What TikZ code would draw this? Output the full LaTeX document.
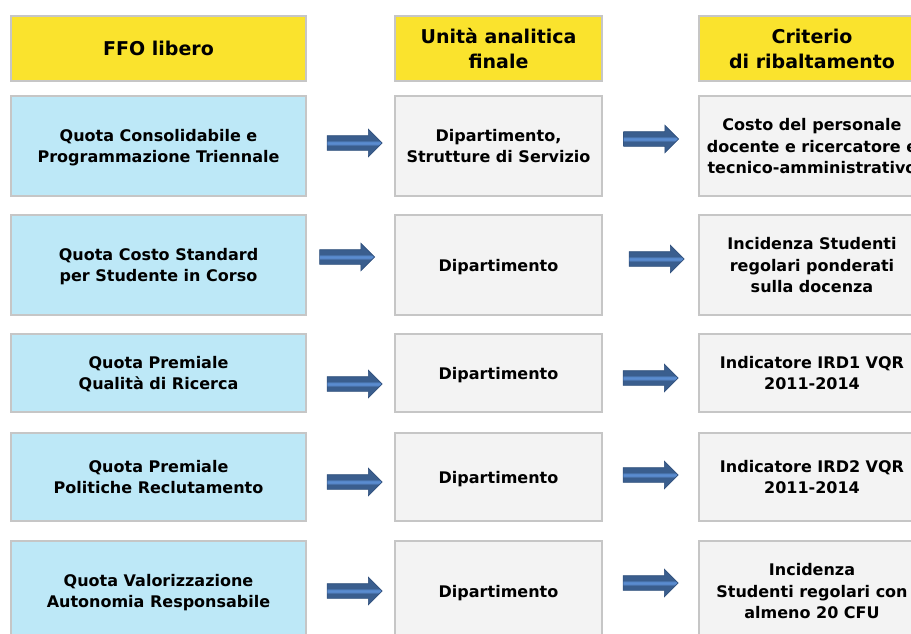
\documentclass[tikz,border=0pt]{standalone}
\usepackage{fontspec}
\setmainfont{DejaVu Sans}
\usetikzlibrary{shapes.arrows}
\definecolor{headyellow}{HTML}{FAE32D}
\definecolor{quotablue}{HTML}{BDE8F7}
\definecolor{unitgray}{HTML}{F3F3F3}
\definecolor{edgegray}{HTML}{C6C6C6}
\definecolor{arrowdark}{HTML}{3A5E8E}
\definecolor{arrowedge}{HTML}{2F4F7C}
\definecolor{arrowlight}{HTML}{5A8CD0}
\pgfdeclareverticalshading{arrowstripe}{100bp}{color(0bp)=(arrowdark);
  color(45bp)=(arrowdark); color(48.5bp)=(arrowlight); color(51.5bp)=(arrowlight);
  color(55bp)=(arrowdark); color(100bp)=(arrowdark)}

\tikzset{
  cell/.style={draw=edgegray, line width=2pt, align=center, inner sep=2pt,
    text depth=0pt, font=\bfseries\fontsize{16}{21.5}\selectfont},
  headcell/.style={cell, fill=headyellow, minimum height=65pt,
    font=\bfseries\fontsize{19}{25}\selectfont},
  quota/.style={cell, fill=quotablue},
  unitcell/.style={cell, fill=unitgray},
  leftcol/.style={minimum width=295pt},
  midcol/.style={minimum width=207pt},
  rightcol/.style={minimum width=226pt},
  blockarrow/.style={single arrow, draw=arrowedge, line width=0.6pt,
    shading=arrowstripe, minimum height=55pt, inner xsep=0pt, inner ysep=7pt,
    single arrow head extend=6.5pt}
}

\begin{document}
\begin{tikzpicture}[x=1pt, y=-1pt]
\useasboundingbox (0,0) rectangle (911,633);
\clip (0,0) rectangle (911,633);

% Column headers
\node[headcell, leftcol] (hffo) at (158.5,48.5) {FFO libero};
\node[headcell, midcol] (hunit) at (498.5,48.5) {Unità analitica\\finale};
\node[headcell, rightcol] (hcrit) at (812,48.5) {Criterio\\di ribaltamento};

% Quote FFO (left column)
\node[quota, leftcol, minimum height=100pt] (qcons) at (158.5,146) {Quota Consolidabile e\\Programmazione Triennale};
\node[quota, leftcol, minimum height=100pt] (qcosto) at (158.5,265) {Quota Costo Standard\\per Studente in Corso};
\node[quota, leftcol, minimum height=78pt] (qric) at (158.5,373) {Quota Premiale\\Qualità di Ricerca};
\node[quota, leftcol, minimum height=88pt] (qrecl) at (158.5,477) {Quota Premiale\\Politiche Reclutamento};
\node[quota, leftcol, minimum height=100pt] (qauto) at (158.5,591) {Quota Valorizzazione\\Autonomia Responsabile};

% Unita analitiche (middle column)
\node[unitcell, midcol, minimum height=100pt] (ucons) at (498.5,146) {Dipartimento,\\Strutture di Servizio};
\node[unitcell, midcol, minimum height=100pt] (ucosto) at (498.5,265) {Dipartimento};
\node[unitcell, midcol, minimum height=78pt] (uric) at (498.5,373) {Dipartimento};
\node[unitcell, midcol, minimum height=88pt] (urecl) at (498.5,477) {Dipartimento};
\node[unitcell, midcol, minimum height=100pt] (uauto) at (498.5,591) {Dipartimento};

% Criteri di ribaltamento (right column)
\node[unitcell, rightcol, minimum height=100pt] (ccons) at (812,146) {Costo del personale\\docente e ricercatore e\\tecnico-amministrativo};
\node[unitcell, rightcol, minimum height=100pt] (ccosto) at (812,265) {Incidenza Studenti\\regolari ponderati\\sulla docenza};
\node[unitcell, rightcol, minimum height=78pt] (cric) at (812,373) {Indicatore IRD1 VQR\\2011-2014};
\node[unitcell, rightcol, minimum height=88pt] (crecl) at (812,477) {Indicatore IRD2 VQR\\2011-2014};
\node[unitcell, rightcol, minimum height=100pt] (cauto) at (812,591) {Incidenza\\Studenti regolari con\\almeno 20 CFU};

% Block arrows between the columns
\node[blockarrow] (acons1) at (351,143) {};
\node[blockarrow] (acons2) at (647.5,139) {};
\node[blockarrow] (acosto1) at (343.5,257) {};
\node[blockarrow] (acosto2) at (653,259) {};
\node[blockarrow] (aric1) at (351,384) {};
\node[blockarrow] (aric2) at (647,378) {};
\node[blockarrow] (arecl1) at (351,482) {};
\node[blockarrow] (arecl2) at (647,475) {};
\node[blockarrow] (aauto1) at (351,591) {};
\node[blockarrow] (aauto2) at (647,583) {};
\end{tikzpicture}
\end{document}
